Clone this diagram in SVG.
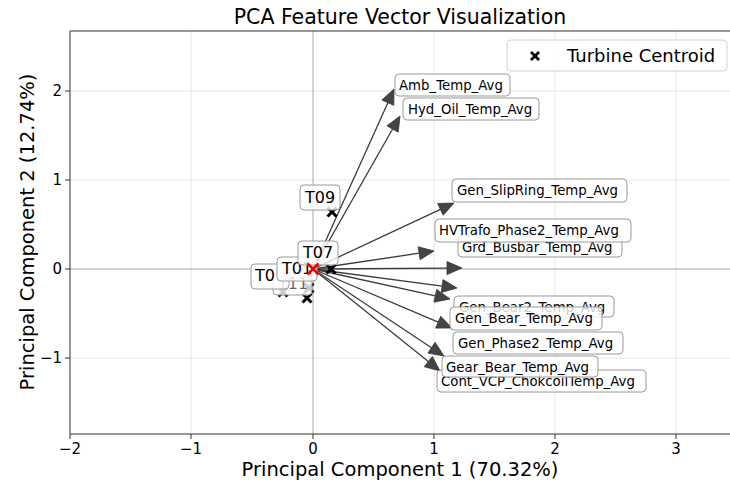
<svg xmlns="http://www.w3.org/2000/svg" xmlns:xlink="http://www.w3.org/1999/xlink" width="730" height="484" viewBox="0 0 730 484">
<style>
text{font-family:"DejaVu Sans","Liberation Sans",sans-serif;fill:#000}
.grid{stroke:#e6e6e6;stroke-width:1}
.zero{stroke:#a8a8a8;stroke-width:1}
.spine{stroke:#333;stroke-width:1;fill:none}
.tick{stroke:#333;stroke-width:1}
.tl{font-size:15px}
.vec line{stroke:#3c3c3c;stroke-width:1.3}
.vec polygon{fill:#444;stroke:#333;stroke-width:0.8}
.fbox{fill:#fff;fill-opacity:0.8;stroke:#9a9a9a;stroke-width:1}
.ft{font-size:13.3px}
.tt{font-size:16px}
.mk{stroke:#000;stroke-width:3;fill:none}
</style>
<defs>
<path id="xm" d="M-4.5,-4.5L4.5,4.5M-4.5,4.5L4.5,-4.5"/>
</defs>
<rect width="730" height="484" fill="#fff"/>
<text x="400" y="24" text-anchor="middle" font-size="20.5">PCA Feature Vector Visualization</text>
<g id="grid">
<line class="grid" x1="191" y1="31" x2="191" y2="434"/>
<line class="grid" x1="434" y1="31" x2="434" y2="434"/>
<line class="grid" x1="555" y1="31" x2="555" y2="434"/>
<line class="grid" x1="676" y1="31" x2="676" y2="434"/>
<line class="grid" x1="70" y1="91" x2="730" y2="91"/>
<line class="grid" x1="70" y1="180" x2="730" y2="180"/>
<line class="grid" x1="70" y1="358" x2="730" y2="358"/>
<line class="zero" x1="313" y1="31" x2="313" y2="434"/>
<line class="zero" x1="70" y1="269" x2="730" y2="269"/>
</g>
<g id="axes">
<path class="spine" d="M730,31H70V434H730"/>
<line class="tick" x1="70" y1="434" x2="70" y2="439"/>
<line class="tick" x1="191" y1="434" x2="191" y2="439"/>
<line class="tick" x1="313" y1="434" x2="313" y2="439"/>
<line class="tick" x1="434" y1="434" x2="434" y2="439"/>
<line class="tick" x1="555" y1="434" x2="555" y2="439"/>
<line class="tick" x1="676" y1="434" x2="676" y2="439"/>
<line class="tick" x1="65" y1="91" x2="70" y2="91"/>
<line class="tick" x1="65" y1="180" x2="70" y2="180"/>
<line class="tick" x1="65" y1="269" x2="70" y2="269"/>
<line class="tick" x1="65" y1="358" x2="70" y2="358"/>
<g class="tl" text-anchor="middle">
<text x="70" y="454">−2</text>
<text x="191" y="454">−1</text>
<text x="313" y="454">0</text>
<text x="434" y="454">1</text>
<text x="555" y="454">2</text>
<text x="676" y="454">3</text>
</g>
<g class="tl" text-anchor="end">
<text x="62" y="96">2</text>
<text x="62" y="185">1</text>
<text x="62" y="274">0</text>
<text x="62" y="363">−1</text>
</g>
<text x="400" y="476" text-anchor="middle" font-size="19.5">Principal Component 1 (70.32%)</text>
<text transform="translate(34,232) rotate(-90)" text-anchor="middle" font-size="19.5">Principal Component 2 (12.74%)</text>
</g>
<g id="connectors" class="vec">
<line x1="313" y1="269" x2="387.85" y2="102.68"/><polygon points="394,89 393.78,105.35 381.92,100.01"/>
<line x1="313" y1="269" x2="392.59" y2="129.04"/><polygon points="400,116 398.24,132.25 386.94,125.83"/>
<line x1="313" y1="269" x2="440.42" y2="209.36"/><polygon points="454,203 443.18,215.25 437.66,203.47"/>
<line x1="313" y1="269" x2="419.16" y2="253.21"/><polygon points="434,251 420.12,259.64 418.2,246.78"/>
<line x1="313" y1="269" x2="447" y2="268.1"/><polygon points="462,268 447,274.6 447,261.6"/>
<line x1="313" y1="269" x2="442.13" y2="286.04"/><polygon points="457,288 441.28,292.48 442.98,279.6"/>
<line x1="313" y1="269" x2="435.34" y2="295.79"/><polygon points="450,299 433.95,302.14 436.73,289.44"/>
<line x1="313" y1="269" x2="438.19" y2="322.14"/><polygon points="452,328 435.65,328.12 440.73,316.16"/>
<line x1="313" y1="269" x2="431.51" y2="347.7"/><polygon points="444,356 427.91,353.11 435.11,342.29"/>
<line x1="313" y1="269" x2="428.31" y2="361.61"/><polygon points="440,371 424.24,366.68 432.38,356.54"/>
</g>
<g id="centroids" class="mk">
<use xlink:href="#xm" x="332" y="212"/>
<use xlink:href="#xm" x="331" y="269"/>
<use xlink:href="#xm" x="307" y="298"/>
<use xlink:href="#xm" x="283" y="292"/>
<use xlink:href="#xm" x="309" y="288"/>
</g>
<g id="T11"><rect class="fbox" x="273" y="273" width="39" height="22" rx="4"/><text class="tt" x="278" y="289" style="fill-opacity:0.6">T11</text></g>
<g id="T0x"><rect class="fbox" x="251" y="264" width="38" height="25" rx="4"/><text class="tt" x="255" y="281">T0</text></g>
<g id="T01"><rect class="fbox" x="277" y="257" width="40" height="24" rx="4"/><text class="tt" x="282" y="274">T01</text></g>
<g id="T07"><rect class="fbox" x="298" y="241" width="40" height="24" rx="4"/><text class="tt" x="303" y="258">T07</text></g>
<g id="T09"><rect class="fbox" x="300" y="185" width="40" height="25" rx="4"/><text class="tt" x="305" y="203">T09</text></g>
<g id="origin"><path d="M307.5,263.5L318.5,274.5M307.5,274.5L318.5,263.5" stroke="#e00" stroke-width="2.5"/></g>
<g id="Amb_Temp_Avg"><rect class="fbox" x="395" y="74" width="115" height="22" rx="4"/><text class="ft" x="399" y="90">Amb_Temp_Avg</text></g>
<g id="Hyd_Oil_Temp_Avg"><rect class="fbox" x="403" y="98" width="136" height="22" rx="4"/><text class="ft" x="408" y="114">Hyd_Oil_Temp_Avg</text></g>
<g id="Gen_SlipRing_Temp_Avg"><rect class="fbox" x="452" y="179" width="175" height="23" rx="4"/><text class="ft" x="457" y="195">Gen_SlipRing_Temp_Avg</text></g>
<g id="Grd_Busbar_Temp_Avg"><rect class="fbox" x="458" y="236" width="164" height="21" rx="4"/><text class="ft" x="462" y="252">Grd_Busbar_Temp_Avg</text></g>
<g id="HVTrafo_Phase2_Temp_Avg"><rect class="fbox" x="435" y="219" width="196" height="23" rx="4"/><text class="ft" x="439" y="235">HVTrafo_Phase2_Temp_Avg</text></g>
<g id="Gen_Bear2_Temp_Avg"><rect class="fbox" x="454" y="296" width="160" height="21" rx="4"/><text class="ft" x="459" y="312">Gen_Bear2_Temp_Avg</text></g>
<g id="Gen_Bear_Temp_Avg"><rect class="fbox" x="450" y="307" width="152" height="23" rx="4"/><text class="ft" x="455" y="323">Gen_Bear_Temp_Avg</text></g>
<g id="Gen_Phase2_Temp_Avg"><rect class="fbox" x="453" y="332" width="170" height="22" rx="4"/><text class="ft" x="458" y="348">Gen_Phase2_Temp_Avg</text></g>
<g id="Cont_VCP_ChokcoilTemp_Avg"><rect class="fbox" x="437" y="370" width="209" height="22" rx="4"/><text class="ft" x="441" y="386">Cont_VCP_ChokcoilTemp_Avg</text></g>
<g id="Gear_Bear_Temp_Avg"><rect class="fbox" x="442" y="356" width="156" height="21" rx="4"/><text class="ft" x="446" y="372">Gear_Bear_Temp_Avg</text></g>
<g id="legend">
<rect x="507" y="40" width="220" height="31" rx="4" fill="#fff" fill-opacity="0.85" stroke="#d0d0d0" stroke-width="1"/>
<path d="M531,52L539,60M531,60L539,52" stroke="#000" stroke-width="2.8"/>
<text x="567" y="62" font-size="18">Turbine Centroid</text>
</g>
</svg>
